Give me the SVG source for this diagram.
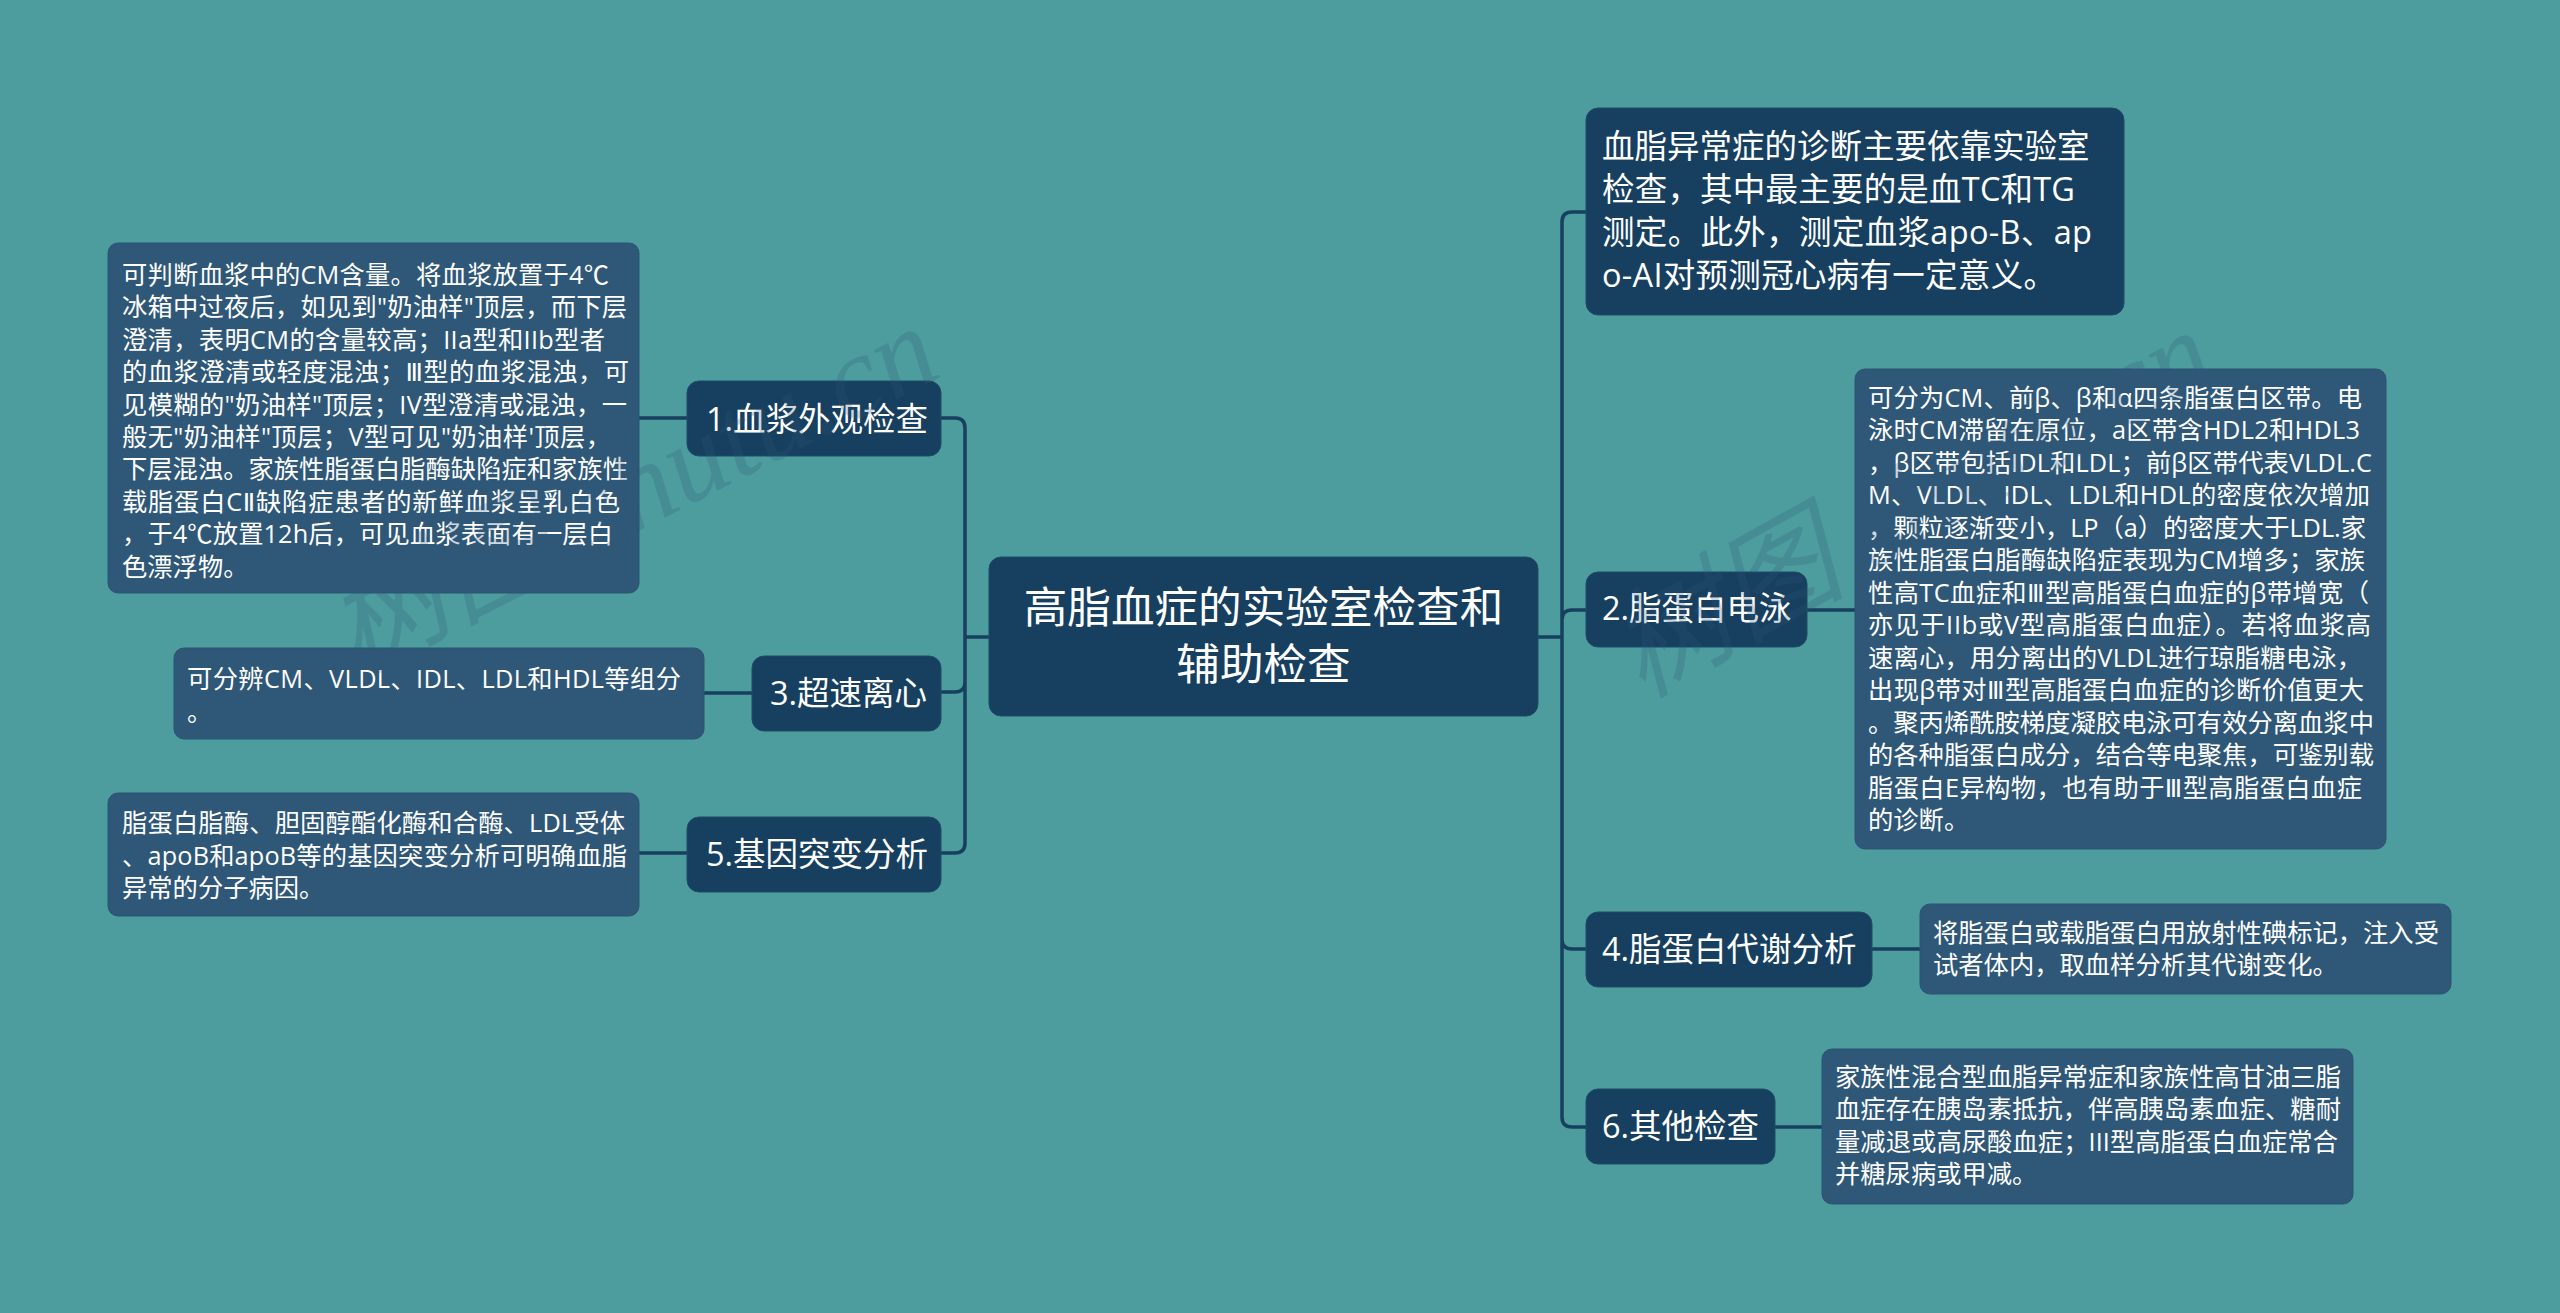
<svg xmlns="http://www.w3.org/2000/svg" width="2560" height="1313" viewBox="0 0 2560 1313">
<style>
text{font-family:"Open Sans","Noto Sans CJK SC",sans-serif;fill:#fff}
.root rect,.branch rect{fill:#173f5f;stroke:#1f4d68;stroke-width:1}
.detail rect{fill:#2f5878;stroke:#2b5472;stroke-width:1}
.detail text{font-size:25.3px}
.branch text{font-size:32.5px}
.root text{font-size:43.6px;text-anchor:middle}
.r{font-family:"DejaVu Sans",sans-serif}
.wm{font-family:"Liberation Serif","Noto Sans CJK SC",serif;font-style:italic;font-size:118px;fill:#2f5878;opacity:.23;text-anchor:middle}
#connectors path{fill:none;stroke:#173f5f;stroke-width:3.5}
</style>
<rect width="2560" height="1313" fill="#4d9c9e"/>
<g id="connectors">
<path d="M989 637H965V428Q965 418 955 418H941M965 637V682Q965 692 955 692H941M965 637V843Q965 853 955 853H941"/>
<path d="M639 418H687M704 693H752M639 853H687"/>
<path d="M1538 637H1562V222Q1562 212 1572 212H1586M1562 637V620Q1562 610 1572 610H1586M1562 637V939Q1562 949 1572 949H1586M1562 637V1117Q1562 1127 1572 1127H1586"/>
<path d="M1807 610H1855M1872 949H1920M1775 1127H1822"/>
</g>
<g id="root" class="root"><rect x="989" y="557" width="549" height="159" rx="12"/>
<text x="1263.5" y="623">高脂血症的实验室检查和</text><text x="1263.5" y="680">辅助检查</text></g>
<g id="n1" class="branch"><rect x="687" y="381" width="254" height="75" rx="12"/><text x="706" y="431">1.血浆外观检查</text></g>
<g id="n3" class="branch"><rect x="752" y="656" width="189" height="75" rx="12"/><text x="770" y="705">3.超速离心</text></g>
<g id="n5" class="branch"><rect x="687" y="817" width="254" height="75" rx="12"/><text x="706" y="866">5.基因突变分析</text></g>
<g id="n2" class="branch"><rect x="1586" y="572" width="221" height="75" rx="12"/><text x="1602" y="620">2.脂蛋白电泳</text></g>
<g id="n4" class="branch"><rect x="1586" y="912" width="286" height="75" rx="12"/><text x="1602" y="961">4.脂蛋白代谢分析</text></g>
<g id="n6" class="branch"><rect x="1586" y="1089" width="189" height="75" rx="12"/><text x="1602" y="1138">6.其他检查</text></g>
<g id="n0" class="branch"><rect x="1586" y="108" width="538" height="207" rx="12"/>
<text x="1602" y="158">血脂异常症的诊断主要依靠实验室</text><text x="1602" y="201" textLength="473">检查，其中最主要的是血TC和TG</text><text x="1602" y="244" textLength="490">测定。此外，测定血浆apo-B、ap</text><text x="1602" y="287" textLength="454">o-AI对预测冠心病有一定意义。</text></g>
<g id="d1" class="detail"><rect x="108" y="243" width="531" height="350" rx="10"/>
<text x="122" y="284" textLength="487">可判断血浆中的CM含量。将血浆放置于4℃</text>
<text x="122" y="316.4" textLength="505">冰箱中过夜后，如见到"奶油样"顶层，而下层</text>
<text x="122" y="348.8" textLength="483">澄清，表明CM的含量较高；IIa型和IIb型者</text>
<text x="122" y="381.2" textLength="507">的血浆澄清或轻度混浊；<tspan class="r">Ⅲ</tspan>型的血浆混浊，可</text>
<text x="122" y="413.6" textLength="505">见模糊的"奶油样"顶层；IV型澄清或混浊，一</text>
<text x="122" y="446" textLength="489">般无"奶油样"顶层；V型可见"奶油样'顶层，</text>
<text x="122" y="478.4">下层混浊。家族性脂蛋白脂酶缺陷症和家族性</text>
<text x="122" y="510.8" textLength="498">载脂蛋白C<tspan class="r">Ⅱ</tspan>缺陷症患者的新鲜血浆呈乳白色</text>
<text x="122" y="543.2" textLength="491">，于4℃放置12h后，可见血浆表面有一层白</text>
<text x="122" y="575.6">色漂浮物。</text></g>
<g id="d3" class="detail"><rect x="174" y="648" width="530" height="91" rx="10"/>
<text x="187" y="688" textLength="494">可分辨CM、VLDL、IDL、LDL和HDL等组分</text><text x="187" y="720.5">。</text></g>
<g id="d5" class="detail"><rect x="108" y="793" width="531" height="123" rx="10"/>
<text x="122" y="832" textLength="503">脂蛋白脂酶、胆固醇酯化酶和合酶、LDL受体</text><text x="122" y="864.5" textLength="505">、apoB和apoB等的基因突变分析可明确血脂</text><text x="122" y="897">异常的分子病因。</text></g>
<g id="d2" class="detail"><rect x="1855" y="369" width="531" height="480" rx="10"/>
<text x="1868" y="406.5" textLength="494">可分为CM、前β、β和α四条脂蛋白区带。电</text>
<text x="1868" y="439" textLength="492">泳时CM滞留在原位，a区带含HDL2和HDL3</text>
<text x="1868" y="471.5" textLength="504">，β区带包括IDL和LDL；前β区带代表VLDL.C</text>
<text x="1868" y="504" textLength="502">M、VLDL、IDL、LDL和HDL的密度依次增加</text>
<text x="1868" y="536.5" textLength="498">，颗粒逐渐变小，LP（a）的密度大于LDL.家</text>
<text x="1868" y="569" textLength="497">族性脂蛋白脂酶缺陷症表现为CM增多；家族</text>
<text x="1868" y="601.5" textLength="501">性高TC血症和<tspan class="r">Ⅲ</tspan>型高脂蛋白血症的β带增宽（</text>
<text x="1868" y="634" textLength="503">亦见于IIb或V型高脂蛋白血症）。若将血浆高</text>
<text x="1868" y="666.5" textLength="494">速离心，用分离出的VLDL进行琼脂糖电泳，</text>
<text x="1868" y="699" textLength="496">出现β带对<tspan class="r">Ⅲ</tspan>型高脂蛋白血症的诊断价值更大</text>
<text x="1868" y="731.5">。聚丙烯酰胺梯度凝胶电泳可有效分离血浆中</text>
<text x="1868" y="764">的各种脂蛋白成分，结合等电聚焦，可鉴别载</text>
<text x="1868" y="796.5" textLength="494">脂蛋白E异构物，也有助于<tspan class="r">Ⅲ</tspan>型高脂蛋白血症</text>
<text x="1868" y="829">的诊断。</text></g>
<g id="d4" class="detail"><rect x="1920" y="904" width="531" height="90" rx="10"/>
<text x="1933" y="941.5">将脂蛋白或载脂蛋白用放射性碘标记，注入受</text><text x="1933" y="974">试者体内，取血样分析其代谢变化。</text></g>
<g id="d6" class="detail"><rect x="1822" y="1049" width="531" height="155" rx="10"/>
<text x="1835" y="1085.5">家族性混合型血脂异常症和家族性高甘油三脂</text><text x="1835" y="1118">血症存在胰岛素抵抗，伴高胰岛素血症、糖耐</text><text x="1835" y="1150.5" textLength="503">量减退或高尿酸血症；III型高脂蛋白血症常合</text><text x="1835" y="1183">并糖尿病或甲减。</text></g>
<text class="wm" transform="translate(650 525) rotate(-27)">树图 shutu.cn</text>
<text class="wm" transform="translate(1931 538) rotate(-29)">树图 shutu.cn</text>
</svg>
